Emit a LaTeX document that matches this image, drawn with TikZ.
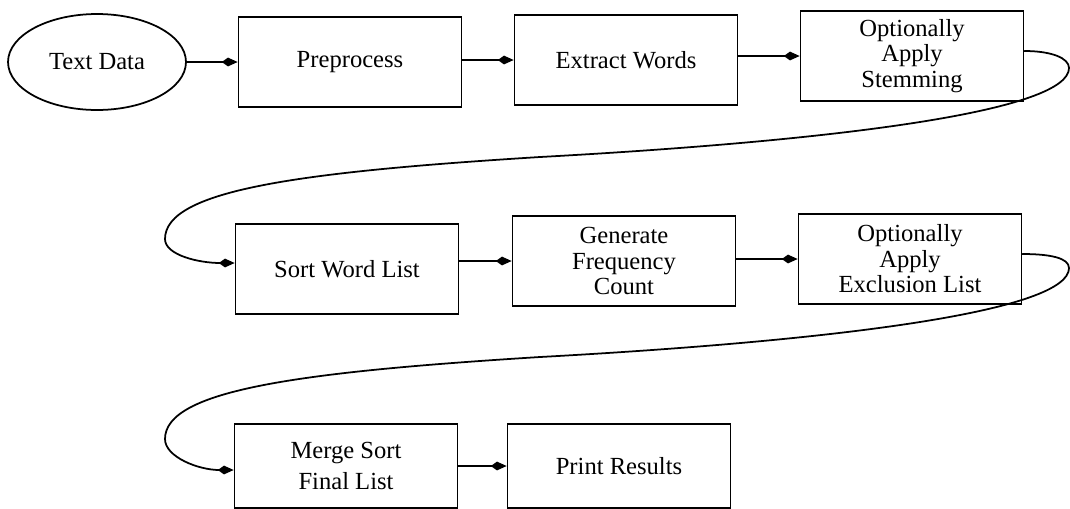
\documentclass[tikz,border=0pt]{standalone}
\usepackage{fontspec}
\setmainfont{Liberation Serif}
\usetikzlibrary{shapes.geometric,arrows.meta}

\begin{document}
\begin{tikzpicture}[
        x=0.02cm, y=0.02cm,
        font=\fontsize{14}{14.5}\selectfont,
        stepbox/.style={draw=black, line width=1pt, minimum width=4.46cm, minimum height=1.8cm, inner sep=2pt, align=center},
        source/.style={ellipse, draw=black, line width=1pt, minimum width=3.56cm, minimum height=1.92cm, inner sep=0pt},
        flow/.style={line width=1pt, line cap=round, -{Kite[length=9pt,width=5pt,inset=3.5pt]}}
    ]
        \useasboundingbox (0,0) rectangle (1070,-508);

        % first row
        \node[source] (text) at (97,-62) {Text Data};
        \node[stepbox] (pre) at (350,-62) {Preprocess};
        \node[stepbox] (ext) at (626,-60) {Extract Words};
        \node[stepbox] (stem) at (912,-56) {Optionally\\Apply\\Stemming};

        % second row
        \node[stepbox] (sort) at (347,-269) {Sort Word List};
        \node[stepbox] (gen) at (624,-261) {Generate\\Frequency\\Count};
        \node[stepbox] (excl) at (910,-259) {Optionally\\Apply\\Exclusion List};

        % third row
        \node[stepbox, minimum height=1.68cm] (merge) at (346,-466) {Merge Sort\\[3pt]Final List};
        \node[stepbox, minimum height=1.68cm] (print) at (619,-466) {Print Results};

        \draw[flow] (text.east) -- (text.east -| pre.west);
        \draw[flow] (pre.east |- ext.west) -- (ext.west);
        \draw[flow] (ext.east |- stem.west) -- (stem.west);
        \draw[flow] (sort.east |- gen.west) -- (gen.west);
        \draw[flow] (gen.east |- excl.west) -- (excl.west);
        \draw[flow] (merge.east) -- (print.west);

        % return loops
        \coordinate (turnA) at (1069,-68);
        \coordinate (midA) at (540,-157);
        \coordinate (backA) at (165,-239);
        \coordinate (turnB) at (1069,-268);
        \coordinate (midB) at (540,-357);
        \coordinate (backB) at (165,-439);

        \draw[flow] ([yshift=0.1cm]stem.east) .. controls +(27,0) and +(0,10) .. (turnA)
            .. controls +(0,-42) and +(310,17) .. (midA)
            .. controls +(-240,-15) and +(0,49) .. (backA)
            .. controls +(0,-16) and +(-36,0) .. ([yshift=0.12cm]sort.west);
        \draw[flow] ([yshift=0.1cm]excl.east) .. controls +(28,0) and +(0,10) .. (turnB)
            .. controls +(0,-42) and +(310,17) .. (midB)
            .. controls +(-240,-15) and +(0,49) .. (backB)
            .. controls +(0,-18) and +(-35,0) .. ([yshift=-0.08cm]merge.west);
\end{tikzpicture}
\end{document}
